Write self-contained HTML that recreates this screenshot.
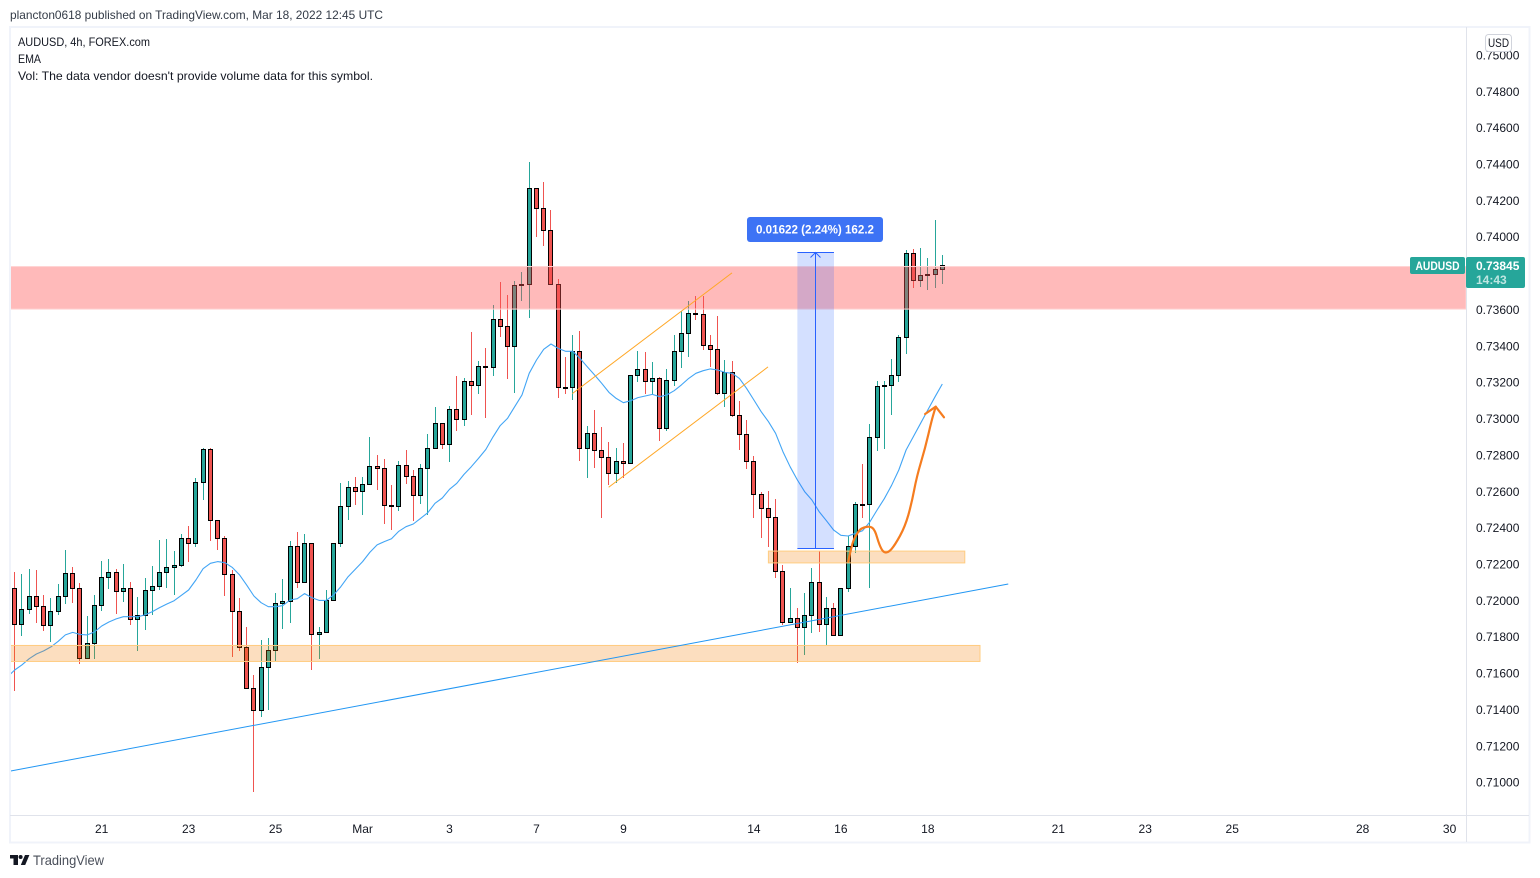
<!DOCTYPE html>
<html lang="en">
<head>
<meta charset="utf-8">
<title>AUDUSD 4h chart</title>
<style>
html,body{margin:0;padding:0;background:#fff;width:1540px;height:878px;overflow:hidden}
svg{display:block;font-family:"Liberation Sans",sans-serif}
text{font-family:"Liberation Sans",sans-serif}
</style>
</head>
<body>
<svg id="chart" xmlns="http://www.w3.org/2000/svg" width="1540" height="878" viewBox="0 0 1540 878">
  <defs>
    <clipPath id="pane-clip"><rect x="10" y="27" width="1456" height="788"/></clipPath>
  </defs>
  <rect x="0" y="0" width="1540" height="878" fill="#ffffff"/>
  <text x="10" y="19" font-size="12" fill="#333b47" textLength="373" lengthAdjust="spacingAndGlyphs">plancton0618 published on TradingView.com, Mar 18, 2022 12:45 UTC</text>
  <g id="pane" clip-path="url(#pane-clip)"></g>
  <g id="price-axis"></g>
  <g id="time-axis"></g>
  <g fill="none">
    <rect x="10" y="27" width="1519.5" height="815.5" stroke="#f0f3fa" stroke-width="2"/>
    <line x1="1466.5" y1="27" x2="1466.5" y2="842" stroke="#e0e3eb"/>
    <line x1="10" y1="815.5" x2="1529" y2="815.5" stroke="#e0e3eb"/>
  </g>
  <g font-size="12" fill="#131722">
    <text x="18" y="46" textLength="132" lengthAdjust="spacingAndGlyphs">AUDUSD, 4h, FOREX.com</text>
    <text x="18" y="63" textLength="23" lengthAdjust="spacingAndGlyphs">EMA</text>
    <text x="18" y="80" textLength="355" lengthAdjust="spacingAndGlyphs">Vol: The data vendor doesn't provide volume data for this symbol.</text>
  </g>
  <g>
    <rect x="1485.5" y="34.5" width="26" height="17" rx="3" fill="#ffffff" stroke="#d1d4dc"/>
    <text x="1498.5" y="47" font-size="12" fill="#131722" text-anchor="middle" textLength="21" lengthAdjust="spacingAndGlyphs">USD</text>
  </g>
  <g>
    <rect x="1410" y="257" width="55" height="17" rx="2" fill="#26a69a"/>
    <text x="1437.5" y="270" font-size="12" font-weight="bold" fill="#ffffff" text-anchor="middle" textLength="44" lengthAdjust="spacingAndGlyphs">AUDUSD</text>
    <rect x="1466" y="257" width="59" height="31" rx="2" fill="#26a69a"/>
    <text x="1476" y="270" font-size="12" font-weight="bold" fill="#ffffff">0.73845</text>
    <text x="1476" y="284" font-size="12" font-weight="bold" fill="#bfe6e1">14:43</text>
  </g>
  <g>
    <path d="M10 855h8v10h-4.5v-6.5H10zM25 855h4.4l-4.2 10h-4.4z" fill="#131722"/>
    <circle cx="20.6" cy="857" r="2" fill="#131722"/>
    <text x="33" y="865" font-size="14" fill="#4a4f5a" textLength="71" lengthAdjust="spacingAndGlyphs">TradingView</text>
  </g>
</svg>
<script>
const open = [0.72065,0.71867,0.71950,0.72021,0.71966,0.71862,0.71939,0.72021,0.72148,0.72065,0.71680,0.71763,0.71972,0.72126,0.72153,0.72049,0.72065,0.71895,0.71917,0.72054,0.72076,0.72153,0.72181,0.72192,0.72340,0.72313,0.72648,0.72830,0.72439,0.72340,0.72142,0.71939,0.71741,0.71515,0.71394,0.71631,0.71724,0.71983,0.71992,0.72296,0.72098,0.72313,0.71812,0.71823,0.71999,0.72313,0.72516,0.72621,0.72599,0.72637,0.72736,0.72725,0.72522,0.72516,0.72742,0.72681,0.72577,0.72725,0.72835,0.72973,0.72857,0.73050,0.72995,0.73204,0.73182,0.73286,0.73279,0.73545,0.73506,0.73396,0.73732,0.73737,0.74265,0.74155,0.74034,0.73737,0.73171,0.73171,0.73369,0.72835,0.72918,0.72824,0.72786,0.72698,0.72764,0.72753,0.73237,0.73270,0.73204,0.73220,0.72945,0.73209,0.73369,0.73468,0.73578,0.73572,0.73402,0.73380,0.73138,0.73253,0.73017,0.72912,0.72764,0.72582,0.72505,0.72456,0.72159,0.71878,0.71900,0.71851,0.71917,0.72098,0.71867,0.71955,0.71807,0.72065,0.72296,0.72527,0.72527,0.72896,0.73176,0.73182,0.73237,0.73446,0.73908,0.73759,0.73785,0.73792,0.73820];
const high = [0.72155,0.72144,0.72172,0.72166,0.72029,0.72012,0.72089,0.72276,0.72183,0.72095,0.71913,0.72029,0.72216,0.72227,0.72172,0.72199,0.72098,0.72018,0.72122,0.72188,0.72331,0.72337,0.72271,0.72364,0.72408,0.72672,0.72837,0.72837,0.72441,0.72353,0.72166,0.72012,0.71853,0.71589,0.71781,0.71790,0.72038,0.72117,0.72326,0.72375,0.72364,0.72315,0.71853,0.72056,0.72315,0.72645,0.72656,0.72678,0.72678,0.72898,0.72799,0.72777,0.72634,0.72766,0.72826,0.72716,0.72749,0.72914,0.73063,0.72975,0.73068,0.73233,0.73222,0.73475,0.73316,0.73387,0.73624,0.73750,0.73679,0.73756,0.73805,0.74410,0.74268,0.74300,0.74146,0.73767,0.73338,0.73459,0.73481,0.72958,0.73046,0.72953,0.72870,0.72837,0.72865,0.73239,0.73371,0.73365,0.73310,0.73228,0.73272,0.73459,0.73591,0.73646,0.73673,0.73673,0.73459,0.73563,0.73321,0.73316,0.73096,0.72991,0.72793,0.72595,0.72601,0.72557,0.72194,0.72067,0.71957,0.72040,0.72177,0.72271,0.72018,0.71985,0.72067,0.72353,0.72540,0.72749,0.72969,0.73206,0.73206,0.73327,0.73459,0.73926,0.73932,0.73937,0.73882,0.74091,0.73899];
const low = [0.71502,0.71803,0.71924,0.71876,0.71832,0.71770,0.71919,0.71979,0.71985,0.71649,0.71680,0.71678,0.71942,0.72062,0.71924,0.71990,0.71865,0.71722,0.71836,0.71919,0.72056,0.72067,0.72029,0.72183,0.72210,0.72293,0.72551,0.72326,0.72276,0.72023,0.71688,0.71721,0.71515,0.70945,0.71359,0.71398,0.71666,0.71843,0.71875,0.72069,0.72098,0.71616,0.71677,0.71823,0.71999,0.72293,0.72441,0.72524,0.72469,0.72634,0.72606,0.72419,0.72386,0.72491,0.72639,0.72436,0.72529,0.72469,0.72835,0.72832,0.72760,0.72931,0.72958,0.73019,0.73134,0.73002,0.73233,0.73448,0.73217,0.73140,0.73646,0.73552,0.73998,0.73948,0.73737,0.73112,0.73134,0.73101,0.72766,0.72672,0.72727,0.72452,0.72634,0.72645,0.72672,0.72753,0.73200,0.73134,0.73134,0.72876,0.72931,0.73178,0.73277,0.73338,0.73541,0.73376,0.73283,0.73129,0.73063,0.73008,0.72826,0.72722,0.72452,0.72342,0.72293,0.72122,0.71864,0.71878,0.71655,0.71699,0.71820,0.71825,0.71754,0.71807,0.71807,0.72045,0.72260,0.72452,0.72067,0.72821,0.72832,0.73019,0.73200,0.73354,0.73717,0.73723,0.73706,0.73717,0.73739];
const close = [0.71867,0.71950,0.72021,0.71966,0.71862,0.71939,0.72021,0.72148,0.72065,0.71680,0.71763,0.71972,0.72126,0.72153,0.72049,0.72065,0.71895,0.71917,0.72054,0.72076,0.72153,0.72181,0.72192,0.72340,0.72313,0.72648,0.72830,0.72439,0.72340,0.72142,0.71939,0.71741,0.71515,0.71394,0.71631,0.71724,0.71983,0.71992,0.72296,0.72098,0.72313,0.71812,0.71823,0.71999,0.72313,0.72516,0.72621,0.72599,0.72637,0.72736,0.72725,0.72522,0.72518,0.72742,0.72681,0.72577,0.72725,0.72835,0.72973,0.72857,0.73050,0.72995,0.73204,0.73182,0.73286,0.73283,0.73545,0.73506,0.73396,0.73732,0.73735,0.74265,0.74155,0.74034,0.73737,0.73171,0.73167,0.73369,0.72835,0.72918,0.72824,0.72786,0.72698,0.72764,0.72753,0.73237,0.73270,0.73204,0.73220,0.72945,0.73209,0.73369,0.73468,0.73578,0.73574,0.73402,0.73380,0.73138,0.73253,0.73017,0.72912,0.72764,0.72582,0.72505,0.72456,0.72159,0.71878,0.71900,0.71851,0.71917,0.72098,0.71867,0.71955,0.71807,0.72065,0.72296,0.72527,0.72524,0.72896,0.73176,0.73180,0.73237,0.73446,0.73908,0.73759,0.73787,0.73789,0.73820,0.73842];
const ema = [0.71578,0.71616,0.71644,0.71678,0.71704,0.71721,0.71743,0.71774,0.71809,0.71823,0.71812,0.71809,0.71825,0.71858,0.71880,0.71897,0.71909,0.71909,0.71909,0.71919,0.71937,0.71959,0.71979,0.71997,0.72027,0.72056,0.72111,0.72173,0.72203,0.72212,0.72206,0.72181,0.72140,0.72084,0.72023,0.71986,0.71964,0.71964,0.71970,0.72001,0.72008,0.72036,0.72014,0.71999,0.71999,0.72029,0.72074,0.72129,0.72170,0.72212,0.72263,0.72304,0.72322,0.72338,0.72379,0.72404,0.72419,0.72450,0.72481,0.72533,0.72562,0.72610,0.72643,0.72692,0.72734,0.72780,0.72829,0.72898,0.72960,0.73000,0.73064,0.73129,0.73248,0.73321,0.73380,0.73409,0.73385,0.73369,0.73369,0.73330,0.73284,0.73239,0.73193,0.73143,0.73110,0.73086,0.73097,0.73114,0.73123,0.73132,0.73119,0.73129,0.73152,0.73184,0.73220,0.73248,0.73262,0.73272,0.73266,0.73253,0.73248,0.73220,0.73165,0.73101,0.73037,0.72982,0.72918,0.72817,0.72734,0.72661,0.72597,0.72551,0.72487,0.72437,0.72386,0.72357,0.72353,0.72368,0.72382,0.72430,0.72496,0.72558,0.72632,0.72716,0.72826,0.72899,0.72973,0.73046,0.73119,0.73189];
const emaFirstBar = -1;
const priceTicks = [0.75,0.748,0.746,0.744,0.742,0.74,0.738,0.736,0.734,0.732,0.73,0.728,0.726,0.724,0.722,0.72,0.718,0.716,0.714,0.712,0.71];
const timeLabels = ["21","23","25","Mar","3","7","9","14","16","18","21","23","25","28","30"];
const timeLabelBars = [12,24,36,48,60,72,84,102,114,126,144,156,168,186,198];
const resistanceZonePrices = [0.73835,0.73601];
const lowerZonePrices = [0.71751,0.71663];
const lowerZoneBars = [-1,133.2];
const upperZonePrices = [0.72270,0.72205];
const upperZoneBars = [104,131.1];
const trendBars = [-0.65,137.1];
const trendPrices = [0.71060,0.72089];
const channelTopBars = [76.94,98.98];
const channelTopPrices = [0.73136,0.73800];
const channelBottomBars = [81.96,103.95];
const channelBottomPrices = [0.72621,0.73283];
const measureBars = [108,113.05];
const measurePrices = [0.73915,0.72287];
const measureLabel = "0.01622 (2.24%) 162.2";
const brushBars = [115.03,115.26,115.72,116.41,116.88,118.02,118.71,119.30,119.86,120.55,121.47,122.85,123.78,124.47,125.62,126.54,127.09];
const brushPrices = [0.72212,0.72260,0.72331,0.72377,0.72397,0.72408,0.72386,0.72304,0.72263,0.72261,0.72304,0.72404,0.72535,0.72679,0.72835,0.72991,0.73064];
const arrowBars = [125.62,127.09,128.23];
const arrowPrices = [0.73024,0.73064,0.73006];

const NS = "http://www.w3.org/2000/svg";
const xOf = i => 14.7 + 7.247 * i;
const yOf = p => 782 - (p - 0.71) * 18181.8;
const snap = v => Math.floor(v) + 0.5;
const pane = document.getElementById("pane");
const priceAxis = document.getElementById("price-axis");
const timeAxis = document.getElementById("time-axis");

function make(tag, parent, attrs) {
  const el = document.createElementNS(NS, tag);
  for (const k in attrs) el.setAttribute(k, attrs[k]);
  parent.appendChild(el);
  return el;
}

/* candles */
const candleGroup = make("g", pane, {});


open.forEach((o, i) => {
  const c = close[i];
  const up = c >= o;
  const color = up ? "#26a69a" : "#ef5350";
  const cx = snap(xOf(i));
  const wick = make("line", candleGroup, {x1: cx, x2: cx, y1: Math.round(yOf(high[i])), y2: Math.round(yOf(low[i])), stroke: color, "stroke-width": 1});
  
  
  const top = snap(yOf(Math.max(o, c)));
  const bot = snap(yOf(Math.min(o, c)));
  const body = make("rect", candleGroup, {x: cx - 2, y: top, width: 4, height: Math.max(bot - top, 1), fill: color, stroke: "#000000", "stroke-width": 1, "shape-rendering": "crispEdges"});
  
  
});

/* EMA line */
const emaLine = make("polyline", pane, {fill: "none", stroke: "#42a5f5", "stroke-width": 1.1, "stroke-linejoin": "round", points: ema.map((v, i) => xOf(i + emaFirstBar).toFixed(1) + "," + yOf(v).toFixed(1)).join(" ")});



/* zones */
const resistanceZone = make("rect", pane, {x: 10, width: 1456, y: yOf(resistanceZonePrices[0]), height: yOf(resistanceZonePrices[1]) - yOf(resistanceZonePrices[0]), fill: "rgba(255,82,82,0.4)", stroke: "#ffd2d2", "stroke-width": 1});


const lowerZone = make("rect", pane, {x: xOf(lowerZoneBars[0]), width: xOf(lowerZoneBars[1]) - xOf(lowerZoneBars[0]), y: yOf(lowerZonePrices[0]), height: yOf(lowerZonePrices[1]) - yOf(lowerZonePrices[0]), fill: "rgba(245,124,0,0.25)", stroke: "#ffcc80", "stroke-width": 1});


const upperZone = make("rect", pane, {x: xOf(upperZoneBars[0]), width: xOf(upperZoneBars[1]) - xOf(upperZoneBars[0]), y: yOf(upperZonePrices[0]), height: yOf(upperZonePrices[1]) - yOf(upperZonePrices[0]), fill: "rgba(245,124,0,0.25)", stroke: "#ffcc80", "stroke-width": 1});



/* trend and channel lines */
const trendLine = make("line", pane, {x1: xOf(trendBars[0]), y1: yOf(trendPrices[0]), x2: xOf(trendBars[1]), y2: yOf(trendPrices[1]), stroke: "#2196f3", "stroke-width": 1});


const channelTop = make("line", pane, {x1: xOf(channelTopBars[0]), y1: yOf(channelTopPrices[0]), x2: xOf(channelTopBars[1]), y2: yOf(channelTopPrices[1]), stroke: "#ffa726", "stroke-width": 1});


const channelBottom = make("line", pane, {x1: xOf(channelBottomBars[0]), y1: yOf(channelBottomPrices[0]), x2: xOf(channelBottomBars[1]), y2: yOf(channelBottomPrices[1]), stroke: "#ffa726", "stroke-width": 1});



/* measure tool */
const mx0 = xOf(measureBars[0]), mx1 = xOf(measureBars[1]);
const my0 = snap(yOf(measurePrices[0])), my1 = snap(yOf(measurePrices[1]));
const mcx = snap((mx0 + mx1) / 2);
const measure = make("g", pane, {});


const measureRect = make("rect", measure, {x: mx0, y: my0, width: mx1 - mx0, height: my1 - my0, fill: "rgba(41,98,255,0.2)"});


const measureTop = make("line", measure, {x1: mx0, x2: mx1, y1: my0, y2: my0, stroke: "#2962ff", "stroke-width": 1});


const measureBottom = make("line", measure, {x1: mx0, x2: mx1, y1: my1, y2: my1, stroke: "#2962ff", "stroke-width": 1});


const measureStem = make("line", measure, {x1: mcx, x2: mcx, y1: my0, y2: my1, stroke: "#2962ff", "stroke-width": 1});


const measureHead = make("polyline", measure, {points: (mcx - 5) + "," + (my0 + 5) + " " + mcx + "," + my0 + " " + (mcx + 5) + "," + (my0 + 5), fill: "none", stroke: "#2962ff", "stroke-width": 1});


const labelBox = make("rect", measure, {x: mcx - 68.5, y: my0 - 35.5, width: 136, height: 25, rx: 3, fill: "#3d73f5"});


const labelText = make("text", measure, {x: mcx - 0.5, y: my0 - 19, "font-size": 12, "font-weight": "bold", fill: "#ffffff", "text-anchor": "middle", textLength: 118, lengthAdjust: "spacingAndGlyphs"});
labelText.textContent = measureLabel;



/* orange brush stroke and arrow */
function smoothPath(bars, prices) {
  const pts = bars.map((b, i) => [xOf(b), yOf(prices[i])]);
  let d = "M" + pts[0][0].toFixed(1) + " " + pts[0][1].toFixed(1);
  for (let i = 1; i < pts.length - 1; i++) {
    const mx = (pts[i][0] + pts[i + 1][0]) / 2, my = (pts[i][1] + pts[i + 1][1]) / 2;
    d += " Q" + pts[i][0].toFixed(1) + " " + pts[i][1].toFixed(1) + " " + mx.toFixed(1) + " " + my.toFixed(1);
  }
  const last = pts[pts.length - 1];
  return d + " L" + last[0].toFixed(1) + " " + last[1].toFixed(1);
}
const brush = make("path", pane, {d: smoothPath(brushBars, brushPrices), fill: "none", stroke: "#f57c1f", "stroke-width": 2.2, "stroke-linecap": "round", "stroke-linejoin": "round"});


const arrowHead = make("polyline", pane, {points: arrowBars.map((b, i) => xOf(b).toFixed(1) + "," + yOf(arrowPrices[i]).toFixed(1)).join(" "), fill: "none", stroke: "#f57c1f", "stroke-width": 2.2, "stroke-linecap": "round", "stroke-linejoin": "round"});



/* price axis */
priceTicks.forEach(p => {
  const t = make("text", priceAxis, {x: 1476, y: yOf(p) + 4.7, "font-size": 12, fill: "#131722"});
  t.textContent = p.toFixed(5);
  
  
});

/* time axis */
timeLabels.forEach((label, i) => {
  const t = make("text", timeAxis, {x: xOf(timeLabelBars[i]), y: 833, "font-size": 12, fill: "#131722", "text-anchor": "middle"});
  t.textContent = label;
  
  
});
</script>
</body>
</html>
